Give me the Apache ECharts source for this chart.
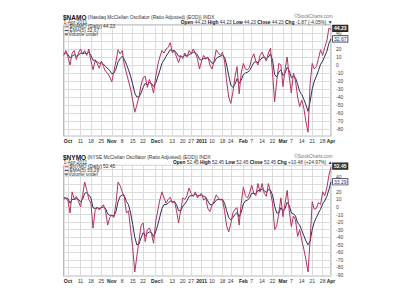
<!DOCTYPE html>
<html><head><meta charset="utf-8">
<script src="https://cdn.jsdelivr.net/npm/echarts@6/dist/echarts.min.js"></script>
<style>html,body{margin:0;padding:0;background:#fff}#c{width:400px;height:300px}</style>
</head><body><div id="c"></div>
<script>
// ---- categories (trading days) ----
const startDate = '2010-09-29', endDate = '2011-04-01';
const holidays = ['2010-11-25', '2010-12-24', '2011-01-17', '2011-02-21'];
const tickLabels = [
  ['2010-10-01','Oct',1],['2010-10-11','11',0],['2010-10-18','18',0],['2010-10-25','25',0],
  ['2010-11-01','Nov',1],['2010-11-08','8',0],['2010-11-15','15',0],['2010-11-22','22',0],
  ['2010-12-01','Dec',1],['2010-12-06','6',0],['2010-12-13','13',0],['2010-12-20','20',0],['2010-12-27','27',0],
  ['2011-01-03','2011',1],['2011-01-10','10',0],['2011-01-18','18',0],['2011-01-24','24',0],
  ['2011-02-01','Feb',1],['2011-02-07','7',0],['2011-02-14','14',0],['2011-02-22','22',0],
  ['2011-03-01','Mar',1],['2011-03-07','7',0],['2011-03-14','14',0],['2011-03-21','21',0],['2011-03-28','28',0],
  ['2011-04-01','Apr',1]
];
// ---- series values ----
const namoDaily = [
  12, 18, 10, 0, 15, 18, 7, 15, 20, 14,
  18, 12, 20, 5, -6, 5, 2, -4, 5, -2,
  -8, -10, -15, -21, -8, 5, 19, 14, 18, 0,
  -10, -20, -30, -44, -59, -50, -40, -25, -16, -14,
  -28, -18, -25, -35, -15, 0, 10, 18, 15, 20,
  22, 28, 15, 18, 10, 3, 12, 8, 15, 10,
  18, 14, 20, 15, 8, -5, 5, 12, 8, 10,
  0, -5, 5, 19, 15, 12, 16, 5, -20, -40,
  -48, -34, -15, -2, -36, -10, 2, -5, -6, -3,
  8, 14, 5, 0, 12, 16, 10, 5, 15, 21,
  -10, -46, -20, 2, 0, -27, -5, 10, -15, -35,
  -10, -20, -40, -52, -44, -54, -71, -84, -23, 2,
  -5, -2, 8, 19, 12, 22, 30, 46.10, 44.23
];
const namoEma = [
  14, 15, 13, 9, 11, 13, 11, 12, 15, 14,
  15, 14, 16, 12, 6, 6, 4, 2, 3, 1,
  -2, -4, -7, -11, -10, -5, 4, 8, 11, 7,
  1, -6, -14, -24, -35, -40, -40, -35, -28, -23,
  -25, -22, -23, -27, -23, -15, -7, 2, 6, 11,
  15, 19, 18, 18, 15, 11, 11, 10, 12, 11,
  13, 14, 16, 15, 13, 7, 6, 8, 8, 9,
  6, 2, 3, 8, 10, 11, 12, 10, 0, -13,
  -25, -28, -24, -17, -23, -19, -12, -10, -9, -7,
  -2, 3, 4, 3, 6, 9, 10, 8, 10, 14,
  6, -12, -15, -9, -6, -13, -10, -3, -7, -16,
  -14, -16, -24, -33, -37, -43, -50, -58, -46, -30,
  -20, -14, -7, 1, 5, 11, 17, 27, 32.67
];
const nymoDaily = [
  10, 12, 8, -8, 20, 10, 14, 8, 0, 15,
  33, 22, 10, 5, -28, -5, 0, -4, 0, 3,
  -5, -24, -14, -11, -14, 5, 33, 28, 20, 13,
  -8, -5, -30, -54, -86, -65, -45, -25, -21, -46,
  -30, -28, -35, -48, -20, -5, 9, 20, 12, 5,
  10, 13, 5, 8, -5, -21, -5, 12, 10, 15,
  25, 18, 14, 20, 12, 16, 18, 9, 12, -2,
  -6, 2, 8, 16, 12, 9, 10, -5, -25, -33,
  -22, -8, -3, -1, -24, 5, 26, 15, 12, 18,
  29, 18, 15, 31, 20, 31, 18, 14, 31, 20,
  5, -30, -25, -8, 12, -13, 5, 22, -5, -26,
  -12, -17, -39, -30, -44, -56, -70, -86, -44, 7,
  -3, -2, 6, 3, 20, 15, 25, 41.97, 52.45
];
const nymoEma = [
  12, 12, 11, 5, 10, 10, 11, 10, 7, 10,
  18, 19, 16, 12, -1, -2, -1, -2, -1, 0,
  -2, -9, -11, -11, -12, -6, 7, 14, 16, 15,
  7, 3, -8, -23, -40, -50, -49, -41, -34, -38,
  -35, -33, -34, -39, -33, -24, -13, -2, 3, 3,
  5, 8, 7, 7, 3, -5, -5, 1, 4, 8,
  14, 15, 15, 17, 15, 15, 16, 14, 13, 8,
  3, 3, 5, 9, 10, 10, 10, 5, -5, -14,
  -17, -14, -10, -7, -13, -7, 4, 8, 9, 12,
  18, 18, 17, 22, 21, 24, 22, 19, 23, 22,
  16, 1, -8, -8, -1, -5, -2, 6, 2, -8,
  -9, -12, -21, -24, -31, -38, -45, -50, -45, -30,
  -20, -14, -8, -3, 4, 8, 14, 23, 33.29
];
const charts = [
  { sym: '$NAMO', desc: '(Nasdaq McClellan Oscillator (Ratio Adjusted) (EOD)) INDX',
    info: '{b|Open} 44.23 {b|High} 44.23 {b|Low} 44.23 {b|Close} 44.23 {b|Chg} -1.87 (-4.05%) ▼',
    daily: namoDaily, ema: namoEma, emaName: 'EMA(5)', min: -89, max: 50, split: 14 },
  { sym: '$NYMO', desc: '(NYSE McClellan Oscillator (Ratio Adjusted) (EOD)) INDX',
    info: '{b|Open} 52.45 {b|High} 52.45 {b|Low} 52.45 {b|Close} 52.45 {b|Chg} +10.48 (+24.97%) ▲',
    daily: nymoDaily, ema: nymoEma, emaName: 'EMA(5)', min: -92, max: 55, split: 15 }
];

// ---- build trading-day categories ----
const dates = [];
(function(){
  const hol = new Set(holidays);
  let d = new Date(startDate + 'T00:00:00Z');
  const end = new Date(endDate + 'T00:00:00Z');
  while (d <= end) {
    const wd = d.getUTCDay();
    const s = d.toISOString().slice(0, 10);
    if (wd !== 0 && wd !== 6 && !hol.has(s)) dates.push(s);
    d = new Date(d.getTime() + 86400000);
  }
})();
const tickMap = {};
tickLabels.forEach(t => { tickMap[t[0]] = t; });
const tickFn = (idx) => !!tickMap[dates[idx]];

const RED = '#b3345f', NAVY = '#2e2e5e';
const FONT = 'Liberation Sans, Arial, sans-serif';
const layout = [
  { top: 25, height: 111.2, oy: 0 },
  { top: 165.4, height: 111.1, oy: 140 }
];
const LEFT = 63.8, WIDTH = 267.2, RIGHTX = 332.5;

const grids = [], xAxes = [], yAxes = [], series = [], graphics = [];
function txt(x, y, text, opts) {
  return Object.assign({ type: 'text', x: x, y: y, z: 10, silent: true,
    style: Object.assign({ text: text, fontSize: 5, fontFamily: FONT, fill: '#333',
      textAlign: 'left', textVerticalAlign: 'middle' }, opts || {}) });
}
charts.forEach((c, k) => {
  const L = layout[k];
  const n = c.daily.length;
  const lastVals = [c.daily[n - 1], c.ema[n - 1]];
  grids.push({ left: LEFT, top: L.top, width: WIDTH, height: L.height, show: true,
    borderColor: '#9a9a9a', borderWidth: 1, backgroundColor: '#fff', containLabel: false });
  xAxes.push({ type: 'category', gridIndex: k, data: dates, boundaryGap: false,
    axisLine: { show: false }, axisTick: { show: false, interval: tickFn },
    splitLine: { show: true, interval: tickFn, lineStyle: { color: '#dcdcdc', width: 1 } },
    axisLabel: { interval: tickFn, fontSize: 5, fontFamily: FONT, color: '#333', margin: 2,
      formatter: v => { const t = tickMap[v]; if (!t) return ''; return t[2] ? '{b|' + t[1] + '}' : t[1]; },
      rich: { b: { fontWeight: 'bold', fontSize: 5, fontFamily: FONT, color: '#222' } } } });
  yAxes.push({ type: 'value', gridIndex: k, position: 'right', min: c.min, max: c.max, splitNumber: c.split,
    axisLine: { show: false }, axisTick: { show: false },
    splitLine: { show: true, lineStyle: { color: '#dcdcdc', width: 1 } },
    axisLabel: { fontSize: 5, lineHeight: 5, fontFamily: FONT, color: '#444', margin: 5,
      formatter: v => {
        if (Math.abs(v % 10) > 1e-9 || v <= c.min || v >= c.max) return '';
        if (lastVals.some(lv => Math.abs(lv - v) < 4)) return '';   // covered by value boxes
        return String(v);
      } } });
  series.push({ type: 'line', xAxisIndex: k, yAxisIndex: k, data: c.ema, symbol: 'none', z: 3,
    lineStyle: { color: NAVY, width: 1 }, silent: true,
    endLabel: { show: true, distance: 2, formatter: p => Number(p.value).toFixed(2), fontSize: 5, lineHeight: 5, fontFamily: FONT,
      color: NAVY, backgroundColor: '#fff', borderColor: NAVY, borderWidth: 0.8, padding: [0.5, 1, 0, 1] } });
  series.push({ type: 'line', xAxisIndex: k, yAxisIndex: k, data: c.daily, symbol: 'none', z: 4,
    lineStyle: { color: RED, width: 1 }, silent: true,
    endLabel: { show: true, distance: 2, offset: [0, -1.2], formatter: p => Number(p.value).toFixed(2), fontSize: 5, lineHeight: 5, fontFamily: FONT,
      fontWeight: 'bold', color: '#fff', backgroundColor: '#3a3a3a', borderColor: '#222', borderWidth: 0.8, padding: [0.5, 1, 0, 1] } });

  const oy = L.oy;
  graphics.push(
    txt(63, 17 + oy, '{b|' + c.sym + '} {n|' + c.desc + '}', {
      rich: { b: { fontWeight: 'bold', fontSize: 6.5, fontFamily: FONT, fill: '#111' }, n: { fontSize: 4.8, fontFamily: FONT, fill: '#333' } } }),
    txt(RIGHTX, 16.8 + oy, '©StockCharts.com', { textAlign: 'right', fill: '#777', fontSize: 4.6 }),
    txt(63.5, 22.2 + oy, '1-Apr-2011', { fontSize: 4.8 }),
    txt(RIGHTX, 22.2 + oy, c.info, { textAlign: 'right', fontSize: 4.8,
      rich: { b: { fontWeight: 'bold', fontSize: 4.8, fontFamily: FONT, fill: '#111' } } }),
    { type: 'line', z: 10, silent: true, shape: { x1: 64.8, y1: 26.8 + oy, x2: 68.5, y2: 26.8 + oy }, style: { stroke: RED, lineWidth: 1 } },
    txt(69.5, 26.8 + oy, c.sym + ' (Daily) ' + c.daily[n - 1].toFixed(2), { fontSize: 4.8 }),
    { type: 'line', z: 10, silent: true, shape: { x1: 64.8, y1: 30.6 + oy, x2: 68.5, y2: 30.6 + oy }, style: { stroke: NAVY, lineWidth: 1 } },
    txt(69.5, 30.6 + oy, c.emaName + ' ' + c.ema[n - 1].toFixed(2), { fontSize: 4.8 }),
    { type: 'rect', z: 10, silent: true, shape: { x: 64.8, y: 33.2 + oy, width: 3, height: 2.2 }, style: { fill: '#777' } },
    txt(68.5, 34.3 + oy, 'Volume undef', { fontSize: 4.8 })
  );
});

const chart = echarts.init(document.getElementById('c'), null, { renderer: 'svg', width: 400, height: 300 });
chart.setOption({
  animation: false,
  backgroundColor: '#fff',
  grid: grids, xAxis: xAxes, yAxis: yAxes, series: series, graphic: graphics
});
</script></body></html>
